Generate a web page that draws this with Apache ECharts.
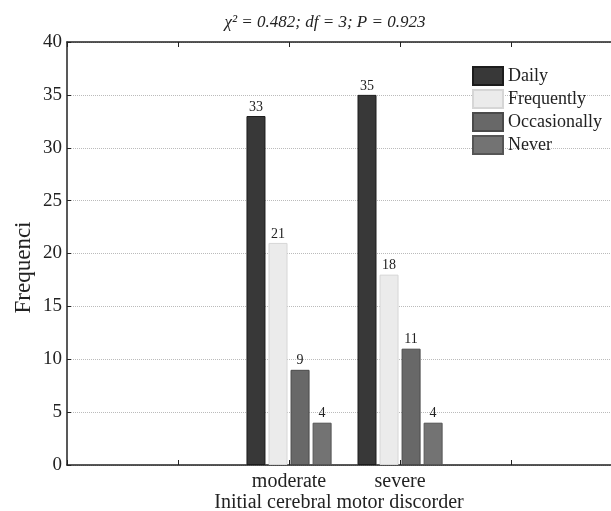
<!DOCTYPE html>
<html>
<head>
<meta charset="utf-8">
<script src="https://cdn.jsdelivr.net/npm/echarts@6/dist/echarts.min.js"></script>
<style>
html,body{margin:0;padding:0;background:#fff;}
#c{width:611px;height:511px;}
</style>
</head>
<body>
<div id="c"></div>
<script>
// x positions (slot index) of each group along the x axis
const groups = ['moderate', 'severe'];
const groupSlots = [2, 3];
const seriesNames = ['Daily', 'Frequently', 'Occasionally', 'Never'];
const daily = [33, 35];
const frequently = [21, 18];
const occasionally = [9, 11];
const never = [4, 4];
const yTicks = [0, 5, 10, 15, 20, 25, 30, 35, 40];
const colors = ['#383838', '#ebebeb', '#686868', '#737373'];
const borders = ['#1c1c1c', '#d6d6d6', '#4a4a4a', '#555555'];

const FONT = 'Liberation Serif';
const valuesList = [daily, frequently, occasionally, never];

function labelFor(v) {
  const i = groupSlots.indexOf(v);
  return i >= 0 ? groups[i] : '';
}

const xBase = {
  type: 'value',
  min: 0,
  max: 4.9,
  interval: 1,
  axisLine: { show: true, lineStyle: { color: '#222', width: 1.5 } },
  axisTick: { show: true, inside: true, length: 5, lineStyle: { color: '#222' } },
  splitLine: { show: false }
};

const chart = echarts.init(document.getElementById('c'));
chart.setOption({
  backgroundColor: '#fff',
  animation: false,
  title: {
    text: 'χ² = 0.482; df = 3; P = 0.923',
    left: 320,
    textAlign: 'center',
    top: 9,
    textStyle: { fontFamily: FONT, fontStyle: 'italic', fontWeight: 'normal', fontSize: 17, color: '#222' }
  },
  legend: {
    orient: 'vertical',
    left: 467,
    top: 61,
    itemWidth: 30,
    itemHeight: 18,
    itemGap: 3,
    icon: 'rect',
    data: seriesNames,
    textStyle: { fontFamily: FONT, fontSize: 18, color: '#222' }
  },
  grid: { left: 67, right: 0, top: 42, bottom: 46, containLabel: false, outerBoundsMode: 'none' },
  xAxis: [
    Object.assign({}, xBase, {
      position: 'bottom',
      axisLabel: {
        fontFamily: FONT, fontSize: 20, color: '#222', margin: 7,
        showMaxLabel: false,
        formatter: v => labelFor(v)
      },
      name: 'Initial cerebral motor discorder',
      nameLocation: 'middle',
      nameGap: 28,
      nameMoveOverlap: false,
      nameTextStyle: { fontFamily: FONT, fontSize: 20, color: '#222' }
    }),
    Object.assign({}, xBase, {
      position: 'top',
      axisLabel: { show: false }
    })
  ],
  yAxis: {
    type: 'value',
    min: 0,
    max: 40,
    interval: 5,
    axisLine: { show: true, lineStyle: { color: '#222', width: 1.5 } },
    axisTick: { show: true, inside: true, length: 4, lineStyle: { color: '#222' } },
    axisLabel: { fontFamily: FONT, fontSize: 19, color: '#222', margin: 5 },
    splitLine: { show: true, lineStyle: { color: '#bbb', type: 'dotted', width: 1 } },
    name: 'Frequenci',
    nameLocation: 'middle',
    nameGap: 32,
    nameMoveOverlap: false,
    nameTextStyle: { fontFamily: FONT, fontSize: 23, color: '#222', padding: [0, 28, 0, 0] }
  },
  series: seriesNames.map((n, i) => ({
    name: n,
    type: 'bar',
    xAxisIndex: 0,
    data: groupSlots.map((s, j) => [s, valuesList[i][j]]),
    barWidth: 19,
    barGap: '16%',
    itemStyle: { color: colors[i], borderColor: borders[i], borderWidth: 1 },
    label: {
      show: true,
      position: 'top',
      distance: 2,
      fontFamily: FONT,
      fontSize: 14,
      color: '#222'
    }
  }))
});
</script>
</body>
</html>
